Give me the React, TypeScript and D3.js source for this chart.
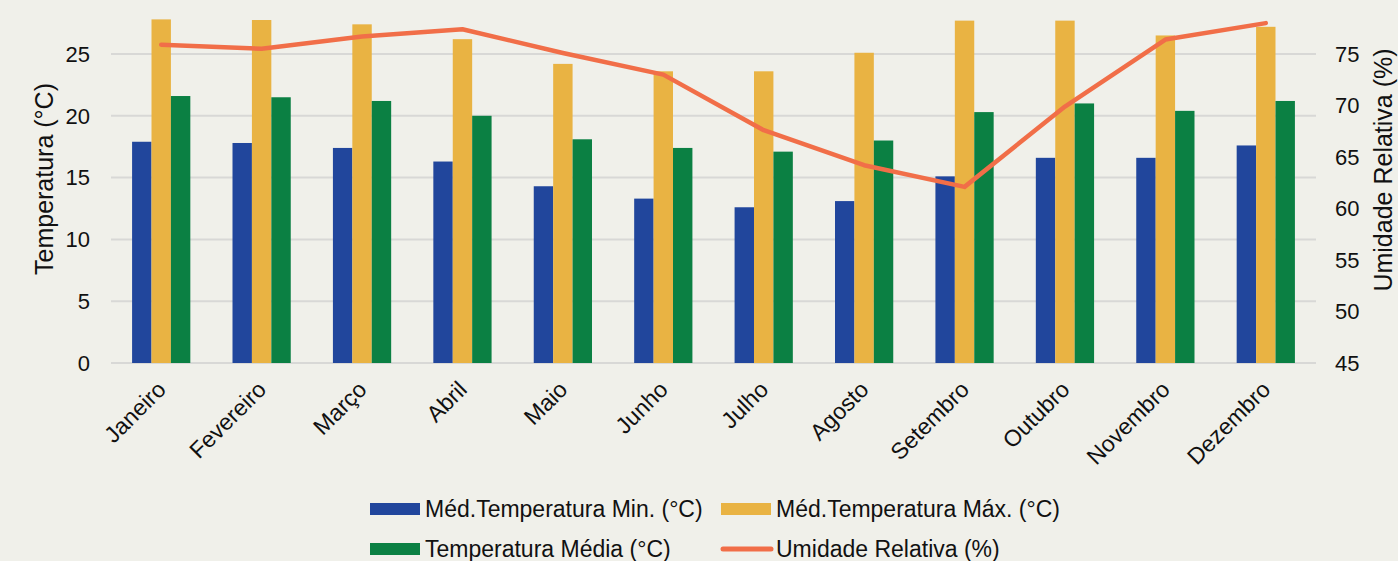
import React from "react";
import * as d3 from "d3";

const months = [
  "Janeiro", "Fevereiro", "Março", "Abril", "Maio", "Junho",
  "Julho", "Agosto", "Setembro", "Outubro", "Novembro", "Dezembro",
];
const tempMin = [17.9, 17.8, 17.4, 16.3, 14.3, 13.3, 12.6, 13.1, 15.1, 16.6, 16.6, 17.6];
const tempMax = [27.8, 27.75, 27.4, 26.2, 24.2, 23.6, 23.6, 25.1, 27.7, 27.7, 26.5, 27.2];
const tempMed = [21.6, 21.5, 21.2, 20.0, 18.1, 17.4, 17.1, 18.0, 20.3, 21.0, 20.4, 21.2];
const umidade = [75.9, 75.5, 76.7, 77.4, 75.1, 73.0, 67.6, 64.2, 62.1, 69.9, 76.4, 78.0];
const leftTicks = [0, 5, 10, 15, 20, 25];
const rightTicks = [45, 50, 55, 60, 65, 70, 75];

const seriesNames = [
  "Méd.Temperatura Min. (°C)",
  "Méd.Temperatura Máx. (°C)",
  "Temperatura Média (°C)",
];
const lineName = "Umidade Relativa (%)";

const W = 1398;
const H = 561;
const colors = ["#21469c", "#e9b343", "#0b8043"];
const lineColor = "#f16e48";
const font = "'Liberation Sans', Arial, sans-serif";

export default function App() {
  const x = d3.scaleBand<string>().domain(months).range([111, 1316]).paddingInner(0.42).paddingOuter(0.21);
  const xSub = d3.scaleBand<number>().domain([0, 1, 2]).range([0, x.bandwidth()]);
  const yL = d3.scaleLinear().domain([0, 25]).range([363, 54]);
  const yR = d3.scaleLinear().domain([45, 75]).range([363, 54]);

  const series = [tempMin, tempMax, tempMed];

  const line = d3
    .line<number>()
    .x((_, i) => (x(months[i]) as number) + x.bandwidth() / 2)
    .y((d) => yR(d));

  // legend: two rows, two columns
  const legend = [
    { kind: "rect", color: colors[0], sx: 370, y: 517, label: seriesNames[0] },
    { kind: "rect", color: colors[1], sx: 721, y: 517, label: seriesNames[1] },
    { kind: "rect", color: colors[2], sx: 370, y: 557, label: seriesNames[2] },
    { kind: "line", color: lineColor, sx: 721, y: 557, label: lineName },
  ];

  return (
    <div>
      <style>{`body{margin:0}`}</style>
      <svg width={W} height={H} style={{ display: "block", fontFamily: font }}>
        <rect width={W} height={H} fill="#f0f0ea" />

        {/* gridlines */}
        {leftTicks.map((t) => (
          <line key={t} x1={111} x2={1316} y1={yL(t)} y2={yL(t)} stroke="#d8d8d6" strokeWidth={2} />
        ))}

        {/* bars */}
        {series.map((vals, s) =>
          vals.map((v, i) => (
            <rect
              key={s + "-" + i}
              x={(x(months[i]) as number) + (xSub(s) as number)}
              y={yL(v)}
              width={xSub.bandwidth()}
              height={yL(0) - yL(v)}
              fill={colors[s]}
            />
          ))
        )}

        {/* humidity line */}
        <path d={line(umidade) || ""} fill="none" stroke={lineColor} strokeWidth={4.5} strokeLinejoin="round" strokeLinecap="round" />

        {/* left axis */}
        {leftTicks.map((t) => (
          <text key={t} x={90} y={yL(t)} dy="0.35em" textAnchor="end" fontSize={22} fill="#111">
            {t}
          </text>
        ))}
        <text transform="translate(53,179) rotate(-90)" textAnchor="middle" fontSize={25} fill="#111">
          Temperatura (°C)
        </text>

        {/* right axis */}
        {rightTicks.map((t) => (
          <text key={t} x={1335} y={yR(t)} dy="0.35em" textAnchor="start" fontSize={22} fill="#111">
            {t}
          </text>
        ))}
        <text transform="translate(1392,170) rotate(-90)" textAnchor="middle" fontSize={25} fill="#111">
          {lineName}
        </text>

        {/* x labels */}
        {months.map((m) => (
          <text
            key={m}
            transform={`translate(${(x(m) as number) + x.bandwidth() / 2 + 6},391) rotate(-45)`}
            textAnchor="end"
            fontSize={23}
            fill="#111"
          >
            {m}
          </text>
        ))}

        {/* legend */}
        <g fontSize={23} fill="#111">
          {legend.map((l) => (
            <g key={l.label}>
              {l.kind === "rect" ? (
                <rect x={l.sx} y={l.y - 14} width={50} height={12} fill={l.color} />
              ) : (
                <line x1={l.sx + 2} x2={l.sx + 50} y1={l.y - 8} y2={l.y - 8} stroke={l.color} strokeWidth={5} strokeLinecap="round" />
              )}
              <text x={l.sx + 55} y={l.y}>
                {l.label}
              </text>
            </g>
          ))}
        </g>
      </svg>
    </div>
  );
}
